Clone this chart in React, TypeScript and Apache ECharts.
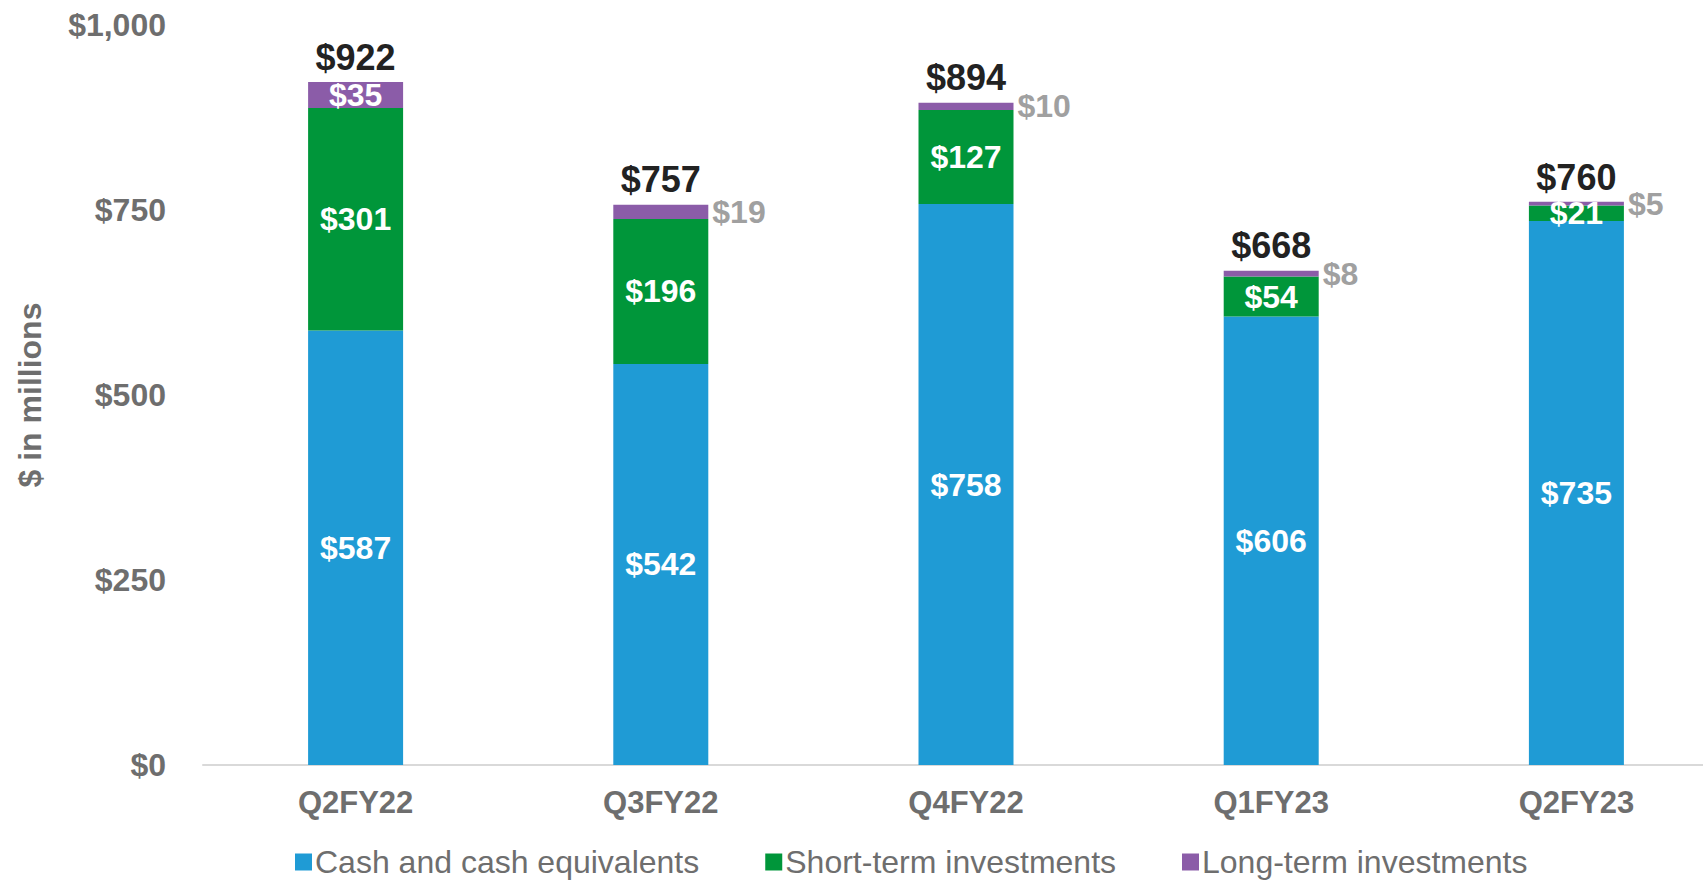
import React, { useEffect, useRef } from "react";
import * as echarts from "echarts";

const categories = ["Q2FY22", "Q3FY22", "Q4FY22", "Q1FY23", "Q2FY23"];
const cashValues = [587, 542, 758, 606, 735];
const shortTermValues = [301, 196, 127, 54, 21];
const longTermValues = [35, 19, 10, 8, 5];
const totals = [922, 757, 894, 668, 760];
const yTicks = [0, 250, 500, 750, 1000];

const FONT = "'Liberation Sans', Arial, sans-serif";
const BLUE = "#1F9BD5";
const GREEN = "#00963A";
const PURPLE = "#8B5CA8";

export default function App() {
  const ref = useRef<HTMLDivElement>(null);
  useEffect(() => {
    if (!ref.current) return;
    const chart = echarts.init(ref.current, undefined, { renderer: "svg" });
    const fmt = (v: number) => "$" + v.toLocaleString("en-US");
    const insideLabel = {
      show: true,
      position: "inside",
      color: "#ffffff",
      fontFamily: FONT,
      fontWeight: "bold",
      fontSize: 32,
      formatter: (p: any) => fmt(p.value),
    };
    chart.setOption({
      animation: false,
      textStyle: { fontFamily: FONT },
      grid: {
        left: 203,
        width: 1526,
        top: 25,
        bottom: 115,
        containLabel: false,
        outerBoundsMode: "none",
      },
      legend: {
        data: ["Cash and cash equivalents", "Short-term investments", "Long-term investments"],
        left: 290,
        top: 841,
        itemWidth: 17,
        itemHeight: 17,
        itemGap: 66,
        icon: "rect",
        textStyle: { fontFamily: FONT, fontSize: 32, color: "#6E6E6E", padding: [0, 0, 0, -2] },
      },
      xAxis: {
        type: "category",
        data: categories,
        axisLine: { show: true, lineStyle: { color: "#D9D9D9", width: 2 } },
        axisTick: { show: false },
        axisLabel: {
          margin: 22,
          color: "#6E6E6E",
          fontFamily: FONT,
          fontWeight: "bold",
          fontSize: 31,
        },
      },
      yAxis: {
        type: "value",
        min: yTicks[0],
        max: yTicks[yTicks.length - 1],
        interval: 250,
        name: "$ in millions",
        nameLocation: "middle",
        nameGap: 157,
        nameTextStyle: { color: "#6E6E6E", fontFamily: FONT, fontWeight: "bold", fontSize: 32 },
        splitLine: { show: false },
        axisLine: { show: false },
        axisTick: { show: false },
        axisLabel: {
          margin: 37,
          color: "#6E6E6E",
          fontFamily: FONT,
          fontWeight: "bold",
          fontSize: 32,
          formatter: (v: number) => fmt(v),
        },
      },
      series: [
        {
          name: "Cash and cash equivalents",
          type: "bar",
          stack: "total",
          barWidth: 95,
          data: cashValues,
          itemStyle: { color: BLUE },
          label: insideLabel,
        },
        {
          name: "Short-term investments",
          type: "bar",
          stack: "total",
          barWidth: 95,
          data: shortTermValues,
          itemStyle: { color: GREEN },
          label: insideLabel,
        },
        {
          name: "Long-term investments",
          type: "bar",
          stack: "total",
          barWidth: 95,
          itemStyle: { color: PURPLE },
          data: longTermValues.map((v, i) =>
            i === 0
              ? { value: v }
              : {
                  value: v,
                  label: {
                    show: true,
                    position: "right",
                    distance: 4,
                    color: "#A0A0A0",
                    fontFamily: FONT,
                    fontWeight: "bold",
                    fontSize: 32,
                  },
                }
          ),
          label: insideLabel,
        },
        {
          name: "Total",
          type: "line",
          data: totals,
          symbol: "circle",
          symbolSize: 1,
          itemStyle: { color: "rgba(0,0,0,0)" },
          lineStyle: { opacity: 0 },
          silent: true,
          label: {
            show: true,
            position: "top",
            distance: 7,
            color: "#222222",
            fontFamily: FONT,
            fontWeight: "bold",
            fontSize: 36,
            formatter: (p: any) => fmt(p.value),
          },
        },
      ],
    });
    return () => chart.dispose();
  }, []);
  return (
    <div
      ref={ref}
      style={{ position: "fixed", left: 0, top: 0, width: 1703, height: 880, background: "#fff" }}
    />
  );
}
